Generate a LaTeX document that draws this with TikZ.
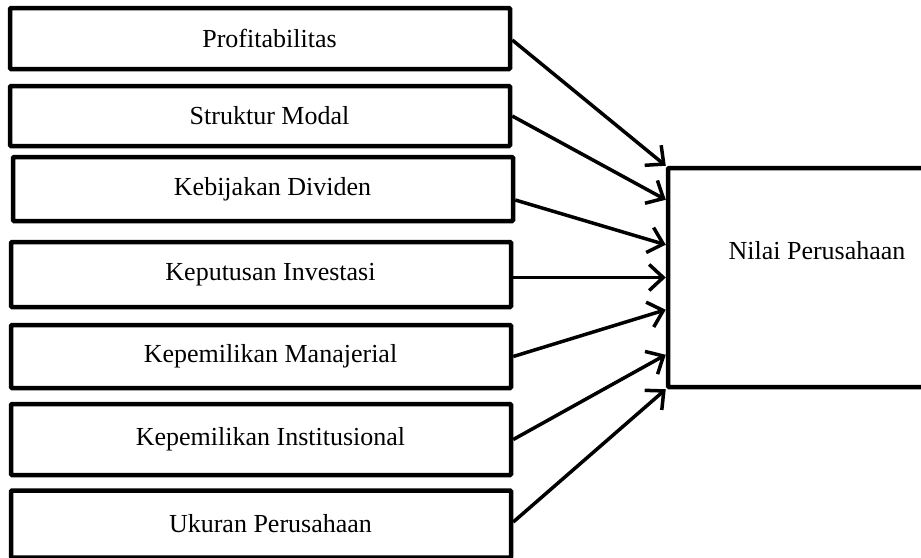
\documentclass[tikz,border=0pt]{standalone}
\usepackage{fontspec}
\setmainfont{Liberation Serif}
\usetikzlibrary{arrows.meta}
\begin{document}
\begin{tikzpicture}[x=1pt,y=-1pt]
        \tikzstyle{every node}=[font=\fontsize{26}{30}\selectfont, text=black]
        \tikzstyle{var}=[rectangle, draw=black, line width=4.5pt, minimum width=500pt, rounded corners=1pt, inner sep=0pt, execute at begin node=\hspace*{19pt}]
        \tikzstyle{edge}=[black, line width=3.5pt, -{Straight Barb[length=14pt,width=26pt]}]

        \useasboundingbox (0,0) rectangle (921,557);

        % variabel independen
        \node[var, minimum height=61pt] (prof)  at (260,38.5)  {Profitabilitas};
        \node[var, minimum height=60pt] (modal) at (260,116)   {Struktur Modal};
        \node[var, minimum height=64pt] (div)   at (263,189)   {Kebijakan Dividen};
        \node[var, minimum height=65pt] (inv)   at (261,274.5) {Keputusan Investasi};
        \node[var, minimum height=63pt] (man)   at (261,356.5) {Kepemilikan Manajerial};
        \node[var, minimum height=71pt] (inst)  at (261,439.5) {Kepemilikan Institusional};
        \node[var, minimum height=67pt] (ukur)  at (261,524)   {Ukuran Perusahaan};

        % variabel dependen
        \node[var, minimum width=332pt, minimum height=219pt] (nilai) at (834,277.5) {};
        \node (nilaitxt) at (817,251) {Nilai Perusahaan};

        \draw[edge] ([yshift=-1.5pt]prof.east) -- (nilai.north west);
        \draw[edge] (modal.east) -- ([yshift=-34pt]nilai.north west);
        \draw[edge] ([yshift=-11pt]div.east) -- ([yshift=-79pt]nilai.north west);
        \draw[edge] ([yshift=-3pt]inv.east) -- (nilai.west);
        \draw[edge] (man.east) -- ([yshift=-144pt]nilai.north west);
        \draw[edge] (inst.east) -- ([yshift=-189pt]nilai.north west);
        \draw[edge] ([yshift=2pt]ukur.east) -- (nilai.south west);
    \end{tikzpicture}
\end{document}
